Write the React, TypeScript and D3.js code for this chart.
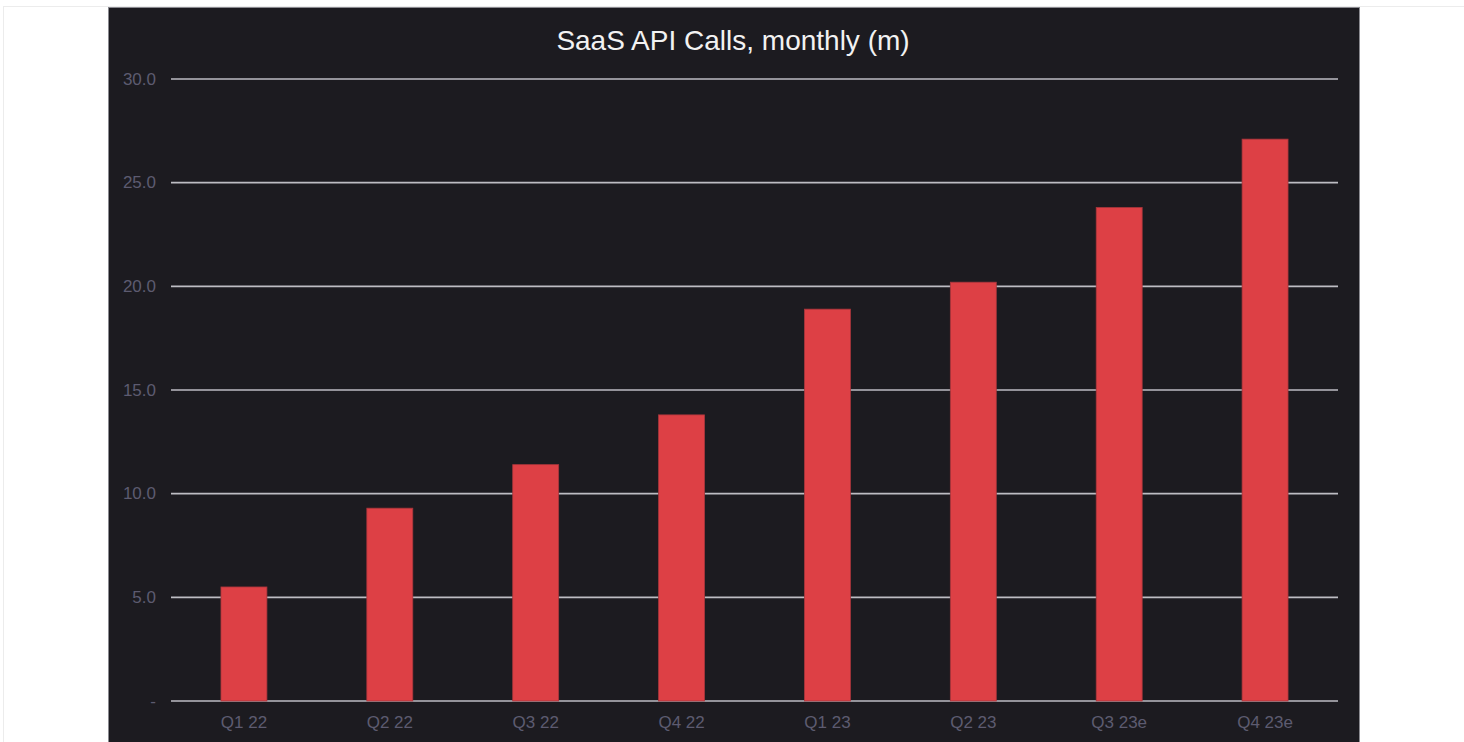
import { useEffect, useRef } from 'react'
import * as d3 from 'd3'

const quarters = ['Q1 22', 'Q2 22', 'Q3 22', 'Q4 22', 'Q1 23', 'Q2 23', 'Q3 23e', 'Q4 23e']
const apiCalls = [5.5, 9.3, 11.4, 13.8, 18.9, 20.2, 23.8, 27.1]
const yTicks = [0, 5, 10, 15, 20, 25, 30]

const W = 1464
const H = 742
const FONT = '"Liberation Sans", Arial, sans-serif'

export default function App() {
  const svgRef = useRef<SVGSVGElement>(null)

  useEffect(() => {
    const svg = d3.select(svgRef.current)
    svg.selectAll('*').remove()
    svg.attr('width', W).attr('height', H)

    // page frame + dark panel
    svg.append('rect')
      .attr('x', 3.5).attr('y', 6.5)
      .attr('width', W).attr('height', H)
      .attr('fill', '#fff')
      .attr('stroke', '#ececec')
    svg.append('rect')
      .attr('x', 108.5).attr('y', 7.5)
      .attr('width', 1251).attr('height', H)
      .attr('fill', '#1c1b20')
      .attr('stroke', '#8a8a90')

    const left = 171
    const right = 1338
    const x = d3.scaleBand().domain(quarters).range([left, right]).paddingInner(0.685).paddingOuter(0.3425)
    const y = d3.scaleLinear().domain([0, 30]).range([701, 79])

    svg.append('text')
      .attr('x', 733)
      .attr('y', 40)
      .attr('dominant-baseline', 'central')
      .attr('text-anchor', 'middle')
      .attr('fill', '#f2f2f2')
      .attr('font-family', FONT)
      .attr('font-size', '28px')
      .text('SaaS API Calls, monthly (m)')

    svg.selectAll('.grid')
      .data(yTicks)
      .join('line')
      .attr('class', 'grid')
      .attr('x1', left).attr('x2', right)
      .attr('y1', d => y(d)).attr('y2', d => y(d))
      .attr('stroke', '#bdbdc3')
      .attr('stroke-width', 1.6)

    svg.selectAll('.ylabel')
      .data(yTicks)
      .join('text')
      .attr('class', 'ylabel')
      .attr('x', 156)
      .attr('y', d => y(d))
      .attr('dominant-baseline', 'central')
      .attr('text-anchor', 'end')
      .attr('fill', '#5d5b70')
      .attr('font-family', FONT)
      .attr('font-size', '17px')
      .text(d => (d === 0 ? '-' : d3.format('.1f')(d)))

    svg.selectAll('.bar')
      .data(apiCalls)
      .join('rect')
      .attr('class', 'bar')
      .attr('x', (d, i) => x(quarters[i])!)
      .attr('y', d => y(d))
      .attr('width', x.bandwidth())
      .attr('height', d => y(0) - y(d))
      .attr('fill', '#dd4045')
      .attr('stroke', '#a8363c')
      .attr('stroke-width', 0.8)

    svg.selectAll('.xlabel')
      .data(quarters)
      .join('text')
      .attr('class', 'xlabel')
      .attr('x', d => x(d)! + x.bandwidth() / 2)
      .attr('y', 722)
      .attr('dominant-baseline', 'central')
      .attr('text-anchor', 'middle')
      .attr('fill', '#5d5b70')
      .attr('font-family', FONT)
      .attr('font-size', '17px')
      .text(d => d)
  }, [])

  return (
    <div style={{ position: 'fixed', left: 0, top: 0, width: W, height: H, background: '#fff', overflow: 'hidden' }}>
      <svg ref={svgRef} style={{ display: 'block' }} />
    </div>
  )
}
